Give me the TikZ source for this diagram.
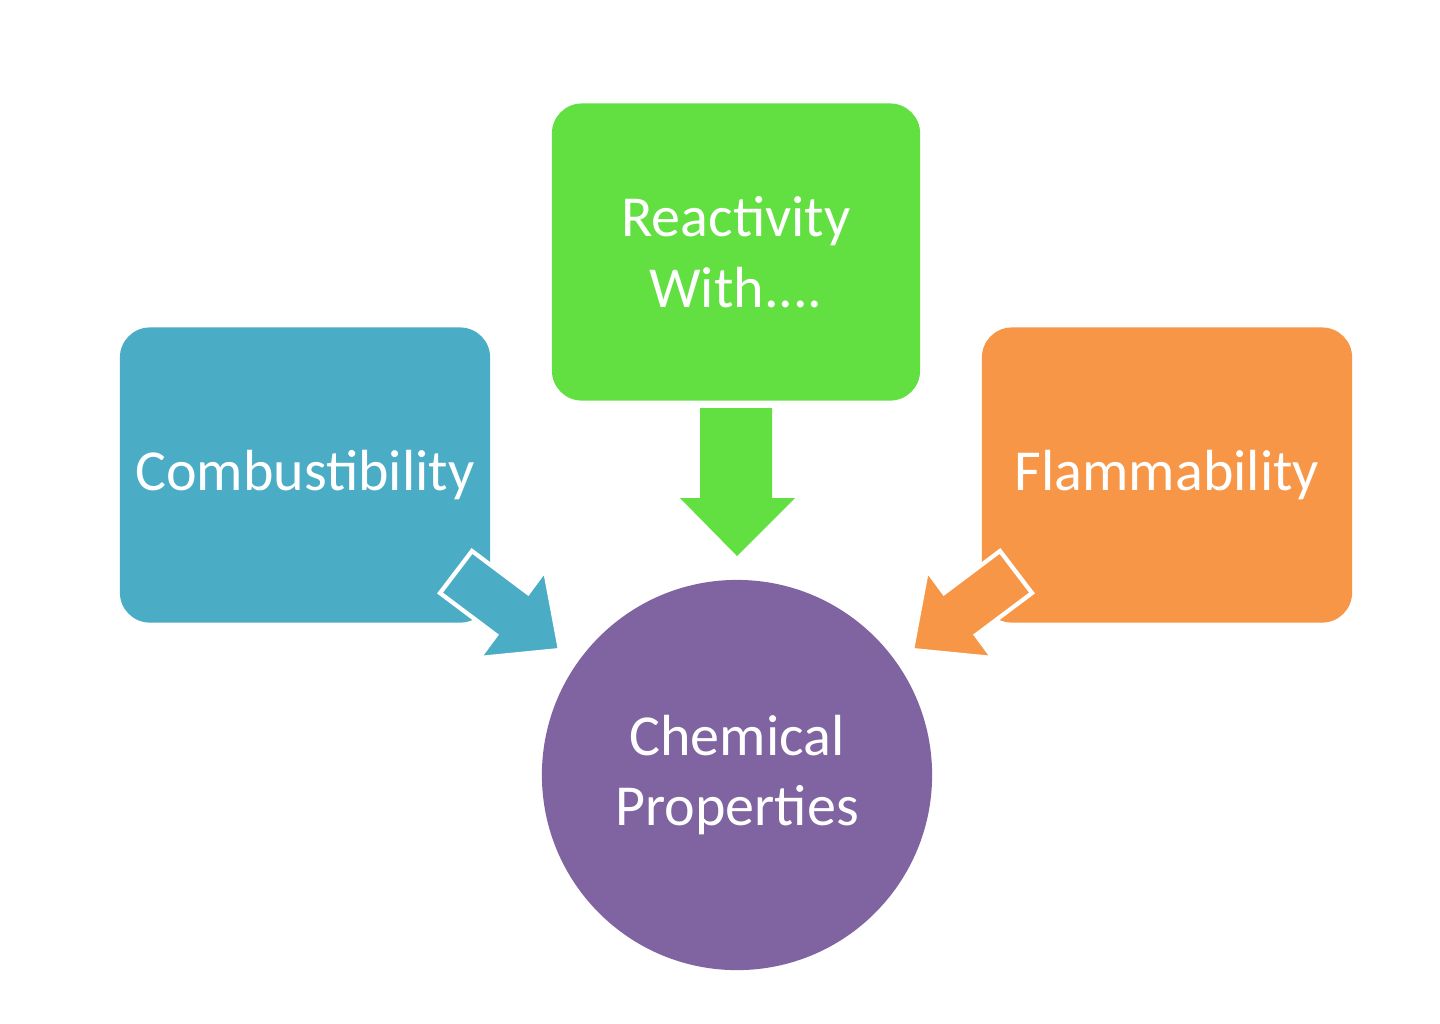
\documentclass[tikz,border=0pt]{standalone}
\usepackage{fontspec}
\setmainfont{Carlito}
\definecolor{cgreen}{HTML}{62E041}
\definecolor{cblue}{HTML}{4BACC6}
\definecolor{corange}{HTML}{F79646}
\definecolor{cpurple}{HTML}{8064A2}
\tikzset{
 box/.style={rounded corners=0.3cm, minimum width=3.7cm, minimum height=2.95cm, text=white, font=\fontsize{16.5}{20}\selectfont, align=center, inner sep=0pt},
 blockarrow/.style={draw=white, line width=1.2pt, line join=miter}
}
\begin{document}
\begin{tikzpicture}[x=0.01cm,y=-0.01cm]
\useasboundingbox (0,0) rectangle (1440,1023);
\fill[white] (0,0) rectangle (1440,1023);
\node[box, fill=cgreen, minimum height=2.97cm, minimum width=3.68cm] (react) at (736,252) {Reactivity\\With....};
\node[box, fill=cblue] (comb) at (305,475) {Combustibility};
\node[box, fill=corange] (flam) at (1167,475) {Flammability};
\node[circle, fill=cpurple, minimum size=3.9cm, text=white, font=\fontsize{16.5}{20}\selectfont, align=center, inner sep=0pt] (chem) at (737,775) {Chemical\\Properties};
% green arrow
\coordinate (gt) at (737,556);
\fill[cgreen] (700,408) -- (772,408) -- (772,498) -- (795,498) -- (gt) -- (680,498) -- (700,498) -- cycle;
% blue arrow
\coordinate (bt) at (560,650);
\filldraw[cblue, blockarrow] (472,551) -- (528,593) -- (545,570) -- (bt) -- (479,658) -- (496,635) -- (440,593) -- cycle;
% orange arrow
\coordinate (ot) at (912,650);
\filldraw[corange, blockarrow] (1000,551) -- (944,593) -- (927,570) -- (ot) -- (993,658) -- (976,635) -- (1032,593) -- cycle;
\end{tikzpicture}
\end{document}
